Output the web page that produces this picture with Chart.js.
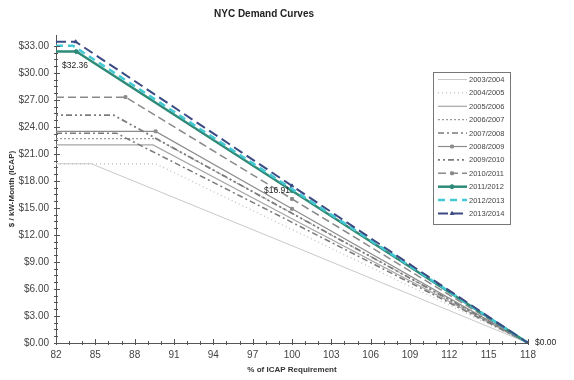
<!DOCTYPE html>
<html>
<head>
<meta charset="utf-8">
<script src="https://cdn.jsdelivr.net/npm/chart.js@4/dist/chart.umd.min.js"></script>
<style>
  html, body { margin: 0; padding: 0; background: #fff; }
  #wrap { width: 574px; height: 380px; }
</style>
</head>
<body>
<div id="wrap"><canvas id="demandplot" width="574" height="380"></canvas></div>
<script>
// capability years
var years = ['2003/2004', '2004/2005', '2005/2006', '2006/2007', '2007/2008', '2008/2009',
             '2009/2010', '2010/2011', '2011/2012', '2012/2013', '2013/2014'];
// max price ($/kW-month), flat part of each curve
var maxPrice = [19.9, 19.9, 22.0, 22.7, 23.3, 23.5, 25.3, 27.3, 32.36, 33.0, 33.45];
// % of requirement where the flat part ends
var kinkPct = [84.7, 89.6, 89.4, 89.6, 86.6, 89.6, 86.4, 87.3, 83.55, 83.3, 83.5];
// price at 100% of requirement
var refPrice = [10.8, 12.6, 13.8, 14.4, 13.4, 14.9, 14.4, 16.0, 16.91, 17.1, 17.45];
// zero crossing
var zeroPct = 118;
var zeroPrice = 0;

var xTicks = [82, 85, 88, 91, 94, 97, 100, 103, 106, 109, 112, 115, 118];
var yTicks = [0, 3, 6, 9, 12, 15, 18, 21, 24, 27, 30, 33];

// line styles per year
var colors = ['#c9c9c9', '#bdbdbd', '#a6a6a6', '#9a9a9a', '#7a7a7a', '#8c8c8c',
              '#7c7c7c', '#8a8a8a', '#2f8a78', '#43c9d3', '#3b4a82'];
var widths = [1, 1.2, 1.2, 1.2, 1.5, 1.2, 1.8, 1.5, 2.5, 2.5, 2];
var dashes = [[], [1, 3], [], [2, 2], [6, 3, 2, 3], [], [2, 3, 2, 3, 6, 3], [8, 4], [], [7, 5], [10, 5]];
var markers = [false, false, false, false, false, 'rect', false, 'rect', 'circle', false, 'triangle'];

var datasets = years.map(function (yr, i) {
    var m = markers[i];
    return {
        label: yr,
        data: [
            { x: 82, y: maxPrice[i] },
            { x: kinkPct[i], y: maxPrice[i] },
            { x: 100, y: refPrice[i] },
            { x: zeroPct, y: zeroPrice }
        ],
        borderColor: colors[i],
        backgroundColor: colors[i],
        borderWidth: widths[i],
        borderDash: dashes[i],
        pointStyle: m || 'circle',
        pointRadius: m ? [0, 2, 2, i === 5 ? 2.5 : 0] : 0,
        pointBorderWidth: 1,
        tension: 0,
        fill: false
    };
});
// draw the top series last
datasets.reverse();

var FONT = '"Liberation Sans", Arial, sans-serif';

var minorTicks = {
    id: 'minorTicks',
    afterDatasetsDraw: function (chart) {
        var ctx = chart.ctx, xs = chart.scales.x, ys = chart.scales.y;
        var area = chart.chartArea;
        ctx.save();
        ctx.strokeStyle = '#555';
        ctx.lineWidth = 1;
        ctx.beginPath();
        for (var v = 82; v <= 118; v++) {
            var px = Math.round(xs.getPixelForValue(v)) + 0.5;
            var len = (v - 82) % 3 === 0 ? 4 : 2;
            ctx.moveTo(px, area.bottom - len);
            ctx.lineTo(px, area.bottom + 2);
        }
        for (var w = 0; w <= 33; w += 0.75) {
            var py = Math.round(ys.getPixelForValue(w)) + 0.5;
            var l2 = w % 3 === 0 ? 4 : 2;
            ctx.moveTo(area.left - 2, py);
            ctx.lineTo(area.left + l2, py);
        }
        ctx.stroke();
        ctx.restore();
    }
};

var valueLabels = {
    id: 'valueLabels',
    afterDatasetsDraw: function (chart) {
        var ctx = chart.ctx;
        // index of 2011/2012 after reverse
        var di = datasets.length - 1 - years.indexOf('2011/2012');
        var pts = chart.getDatasetMeta(di).data;
        var d = chart.data.datasets[di].data;
        ctx.save();
        ctx.font = '8.5px ' + FONT;
        ctx.fillStyle = '#222';
        ctx.textBaseline = 'middle';
        ctx.textAlign = 'left';
        ctx.fillText('$' + d[0].y.toFixed(2), pts[0].x + 6, pts[0].y + 14);
        ctx.textAlign = 'right';
        ctx.fillText('$' + d[2].y.toFixed(2), pts[2].x - 2, pts[2].y);
        ctx.textAlign = 'left';
        ctx.fillText('$' + d[3].y.toFixed(2), pts[3].x + 7, pts[3].y);
        ctx.restore();
    }
};

var boxLegend = {
    id: 'boxLegend',
    afterDraw: function (chart) {
        var ctx = chart.ctx;
        var left = 433, top = 72, w = 77, h = 152, step = 13.4;
        ctx.save();
        ctx.fillStyle = '#fff';
        ctx.fillRect(left, top, w, h);
        ctx.strokeStyle = '#777';
        ctx.lineWidth = 1;
        ctx.strokeRect(left + 0.5, top + 0.5, w, h);
        ctx.font = '7.5px ' + FONT;
        ctx.textBaseline = 'middle';
        ctx.textAlign = 'left';
        years.forEach(function (yr, i) {
            var y = top + 7.5 + i * step;
            ctx.save();
            ctx.strokeStyle = colors[i];
            ctx.lineWidth = widths[i];
            ctx.setLineDash(dashes[i]);
            ctx.beginPath();
            ctx.moveTo(left + 5, y);
            ctx.lineTo(left + 34, y);
            ctx.stroke();
            ctx.restore();
            if (markers[i]) {
                ctx.fillStyle = colors[i];
                ctx.strokeStyle = colors[i];
                Chart.helpers.drawPoint(ctx, { pointStyle: markers[i], radius: 2, borderWidth: 1 }, left + 19, y);
            }
            ctx.fillStyle = '#444';
            ctx.fillText(yr, left + 36, y + 0.5);
        });
        ctx.restore();
    }
};

var ctx = document.getElementById('demandplot').getContext('2d');
var demandChart = new Chart(ctx, {
    type: 'line',
    data: { datasets: datasets },
    options: {
        responsive: false,
        animation: false,
        layout: { padding: { top: 0, right: 46, bottom: 0, left: 0 } },
        plugins: {
            legend: { display: false },
            tooltip: { enabled: false },
            title: {
                display: true,
                text: 'NYC Demand Curves',
                color: '#222',
                font: { family: FONT, size: 10, weight: 'bold' },
                padding: { top: 8, bottom: 15 }
            }
        },
        scales: {
            x: {
                type: 'linear',
                min: 82,
                max: 118,
                afterBuildTicks: function (scale) {
                    scale.ticks = xTicks.map(function (v) { return { value: v }; });
                },
                afterFit: function (scale) { scale.height = 37; },
                grid: { drawOnChartArea: false, drawTicks: false },
                border: { color: '#555', width: 1 },
                ticks: {
                    padding: 6,
                    color: '#444',
                    font: { family: FONT, size: 10 },
                    maxRotation: 0,
                    autoSkip: false
                },
                title: {
                    display: true,
                    text: '% of ICAP Requirement',
                    color: '#333',
                    font: { family: FONT, size: 8, weight: 'bold' },
                    padding: { top: 0, bottom: 5 }
                }
            },
            y: {
                min: 0,
                max: 34.2,
                afterBuildTicks: function (scale) {
                    scale.ticks = yTicks.map(function (v) { return { value: v }; });
                },
                afterFit: function (scale) { scale.width = 56; },
                grid: { drawOnChartArea: false, drawTicks: false },
                border: { color: '#555', width: 1 },
                ticks: {
                    padding: 7,
                    color: '#444',
                    font: { family: FONT, size: 10 },
                    autoSkip: false,
                    callback: function (value) { return '$' + Number(value).toFixed(2); }
                },
                title: {
                    display: true,
                    text: '$ / kW-Month (ICAP)',
                    color: '#333',
                    font: { family: FONT, size: 8, weight: 'bold' },
                    padding: { top: 7, bottom: 0 }
                }
            }
        }
    },
    plugins: [minorTicks, valueLabels, boxLegend]
});
</script>
</body>
</html>
